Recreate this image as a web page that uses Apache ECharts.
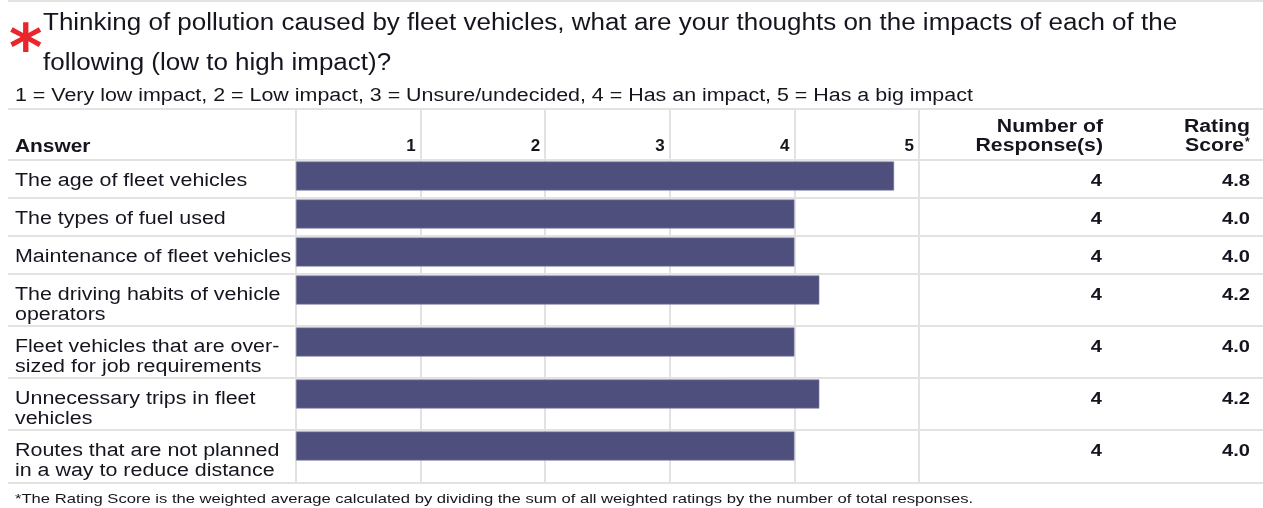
<!DOCTYPE html>
<html>
<head>
<meta charset="utf-8">
<script src="https://cdn.jsdelivr.net/npm/echarts@6/dist/echarts.min.js"></script>
<style>
  html, body { margin: 0; padding: 0; background: #fff; }
  #chart { width: 1263px; height: 508px; }
</style>
</head>
<body>
<div id="chart"></div>
<script>
// Survey question text
const titleLines = [
  'Thinking of pollution caused by fleet vehicles, what are your thoughts on the impacts of each of the',
  'following (low to high impact)?'
];
const scaleLegend = '1 = Very low impact, 2 = Low impact, 3 = Unsure/undecided, 4 = Has an impact, 5 = Has a big impact';
const footnote = '*The Rating Score is the weighted average calculated by dividing the sum of all weighted ratings by the number of total responses.';

// Answers, one row each
const answers = [
  'The age of fleet vehicles',
  'The types of fuel used',
  'Maintenance of fleet vehicles',
  'The driving habits of vehicle\noperators',
  'Fleet vehicles that are over-\nsized for job requirements',
  'Unnecessary trips in fleet\nvehicles',
  'Routes that are not planned\nin a way to reduce distance'
];
const ratingScores = [4.8, 4.0, 4.0, 4.2, 4.0, 4.2, 4.0];
const responseCounts = [4, 4, 4, 4, 4, 4, 4];
const scaleTicks = [1, 2, 3, 4, 5];

// ---- table layout ----
const W = 1263;
const PLOT_L = 296, PLOT_R = 919;
const HEAD_TOP = 109, BODY_TOP = 160;
const LINE_L = 8;
const FONT = '"Liberation Sans", Arial, sans-serif';
const INK = '#15151f';
const RULE = '#e2e2e2';
const BAR = '#4f4f7e';
const WIDE = 1.18; // horizontal stretch of the report typeface

const rowTops = [];
let cursor = BODY_TOP;
answers.forEach(a => { rowTops.push(cursor); cursor += a.includes('\n') ? 52 : 38; });
const BODY_BOTTOM = cursor + 1;

const grids = [], xAxes = [], yAxes = [], series = [];

// frame grid: vertical rules and the 1..5 scale header
grids.push({ left: PLOT_L, width: PLOT_R - PLOT_L, top: HEAD_TOP, height: BODY_BOTTOM - HEAD_TOP });
xAxes.push({
  gridIndex: 0, type: 'value', min: 0, max: 5, interval: 1, position: 'top',
  axisLine: { show: false }, axisTick: { show: false },
  splitLine: { show: true, lineStyle: { color: RULE, width: 2 } },
  axisLabel: {
    formatter: v => scaleTicks.includes(v) ? String(v) : '',
    align: 'right', verticalAlign: 'bottom', margin: -46, padding: [0, 5, 0, 0],
    fontFamily: FONT, fontWeight: 'bold', fontSize: 17, color: INK
  }
});
yAxes.push({ gridIndex: 0, type: 'value', show: false, min: 0, max: 1 });

// one grid per answer row holding its bar
answers.forEach((a, i) => {
  const g = i + 1;
  grids.push({ left: PLOT_L, width: PLOT_R - PLOT_L, top: rowTops[i] + 1, height: 30 });
  xAxes.push({ gridIndex: g, type: 'value', min: 0, max: 5, show: false });
  yAxes.push({ gridIndex: g, type: 'category', data: [a], show: false });
  series.push({
    type: 'bar', xAxisIndex: g, yAxisIndex: g, data: [ratingScores[i]],
    barWidth: 29, silent: true, animation: false,
    itemStyle: { color: BAR, borderColor: '#7c7ca2', borderWidth: 0.6 }
  });
});

// ---- graphic elements: rules and table text ----
const graphic = [];
const hRule = y => ({ type: 'line', shape: { x1: LINE_L, y1: y, x2: W, y2: y }, style: { stroke: RULE, lineWidth: 2 }, silent: true });
[1, HEAD_TOP, ...rowTops, BODY_BOTTOM].forEach(y => graphic.push(hRule(y)));

const txt = (x, y, text, o = {}, sx = WIDE) => ({
  type: 'text', x, y, scaleX: sx, silent: true,
  style: Object.assign({ text, fontFamily: FONT, fontSize: 18, fill: INK, align: 'left', verticalAlign: 'middle' }, o)
});

graphic.push(txt(9, 53, '*', { fontSize: 64, fontWeight: 'bold', fill: '#e8262c', fontFamily: '"DejaVu Sans", sans-serif' }, 1));
graphic.push(txt(43, 24, titleLines[0], { fontSize: 23 }, 1.13));
graphic.push(txt(43, 64, titleLines[1], { fontSize: 23 }, 1.13));
graphic.push(txt(15, 96, scaleLegend, { fontSize: 18 }, 1.19));

graphic.push(txt(15, 147, 'Answer', { fontWeight: 'bold', fontSize: 18 }, 1.16));
graphic.push(txt(1103, 137, 'Number of\nResponse(s)', { fontWeight: 'bold', fontSize: 18, align: 'right', lineHeight: 19 }));
graphic.push(txt(1250, 127, 'Rating', { fontWeight: 'bold', fontSize: 18, align: 'right' }));
graphic.push(txt(1244, 146, 'Score', { fontWeight: 'bold', fontSize: 18, align: 'right' }));
graphic.push(txt(1245, 143, '*', { fontWeight: 'bold', fontSize: 12 }, 1));

answers.forEach((a, i) => {
  const top = rowTops[i];
  graphic.push(txt(15, top + 11, a, { verticalAlign: 'top', lineHeight: 20, fontSize: 18 }, 1.19));
  graphic.push(txt(1102, top + 21, String(responseCounts[i]), { align: 'right', fontWeight: 'bold', fontSize: 17 }));
  graphic.push(txt(1250, top + 21, ratingScores[i].toFixed(1), { align: 'right', fontWeight: 'bold', fontSize: 17 }));
});

graphic.push(txt(15, 499, footnote, { fontSize: 13.5 }, 1.23));

const chart = echarts.init(document.getElementById('chart'), null, { renderer: 'canvas' });
chart.setOption({
  animation: false,
  grid: grids,
  xAxis: xAxes,
  yAxis: yAxes,
  series: series,
  graphic: graphic
});
</script>
</body>
</html>
